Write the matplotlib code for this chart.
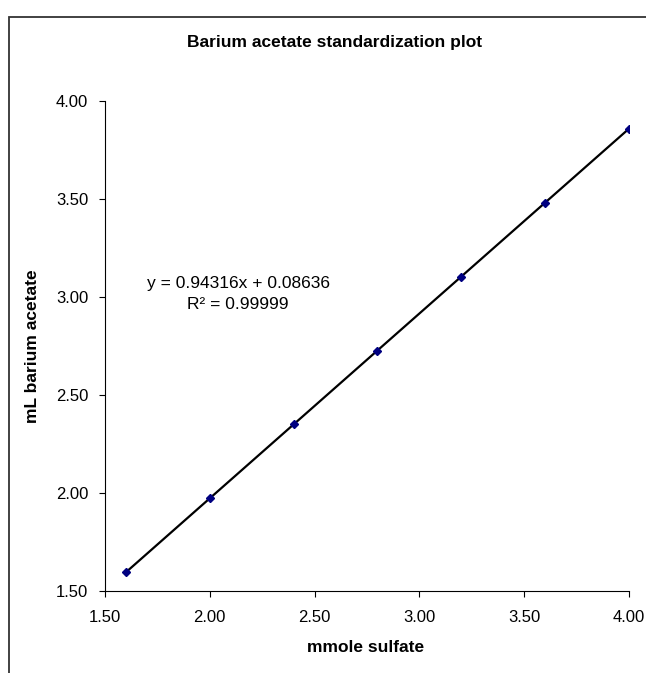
import numpy as np
import matplotlib
matplotlib.use('Agg')
import matplotlib.pyplot as plt
from matplotlib.patches import Rectangle

plt.rcParams['font.family'] = ['Liberation Sans', 'DejaVu Sans']

# data
mmole_sulfate = [1.60, 2.00, 2.40, 2.80, 3.20, 3.60, 4.00]
ml_barium = [1.596, 1.973, 2.350, 2.727, 3.104, 3.482, 3.859]
ticks = [1.50, 2.00, 2.50, 3.00, 3.50, 4.00]

fig = plt.figure(figsize=(6.46, 6.73), dpi=100)
ax = fig.add_axes([105/646, 1 - 591/673, (629 - 105)/646, (591 - 101)/673])

# linear trendline (Excel style)
slope, icept = np.polyfit(mmole_sulfate, ml_barium, 1)
xs = np.array([min(mmole_sulfate), max(mmole_sulfate)])
ax.plot(xs, slope*xs + icept, color='black', lw=1.6, zorder=2)
ax.plot(mmole_sulfate, ml_barium, ls='none', marker='D', ms=4.5,
        color='#000080', mec='#000080', zorder=3)

ax.set_xlim(1.5, 4.0)
ax.set_ylim(1.5, 4.0)
ax.set_xticks(ticks)
ax.set_yticks(ticks)
ax.set_xticklabels(['%.2f' % t for t in ticks])
ax.set_yticklabels(['%.2f' % t for t in ticks])
ax.tick_params(axis='x', direction='out', length=4, width=0.8, pad=10, labelsize=12)
ax.tick_params(axis='y', direction='out', length=4, width=0.8, pad=8, labelsize=12)
for s in ['top', 'right']:
    ax.spines[s].set_visible(False)
for s in ['left', 'bottom']:
    ax.spines[s].set_linewidth(0.8)

ax.text(2.135, 3.015, 'y = 0.94316x + 0.08636\nR² = 0.99999', ha='center', va='center',
        multialignment='center', fontsize=12.5, linespacing=1.55)

fig.text(335/646, 1 - 42/673, 'Barium acetate standardization plot', ha='center', va='center',
         fontsize=12.5, fontweight='bold')
fig.text(366/646, 1 - 648/673, 'mmole sulfate', ha='center', va='center',
         fontsize=12.5, fontweight='bold')
fig.text(33/646, 1 - 346/673, 'mL barium acetate', ha='center', va='center',
         rotation=90, fontsize=12.5, fontweight='bold')

# chart area border (only top and left edges are visible in the crop)
fig.patches.append(Rectangle((9/646, -0.5), 2, 0.5 + (1 - 17/673), transform=fig.transFigure,
                             fill=False, edgecolor='#333333', lw=1.3))

fig.savefig('out.png', dpi=100)
